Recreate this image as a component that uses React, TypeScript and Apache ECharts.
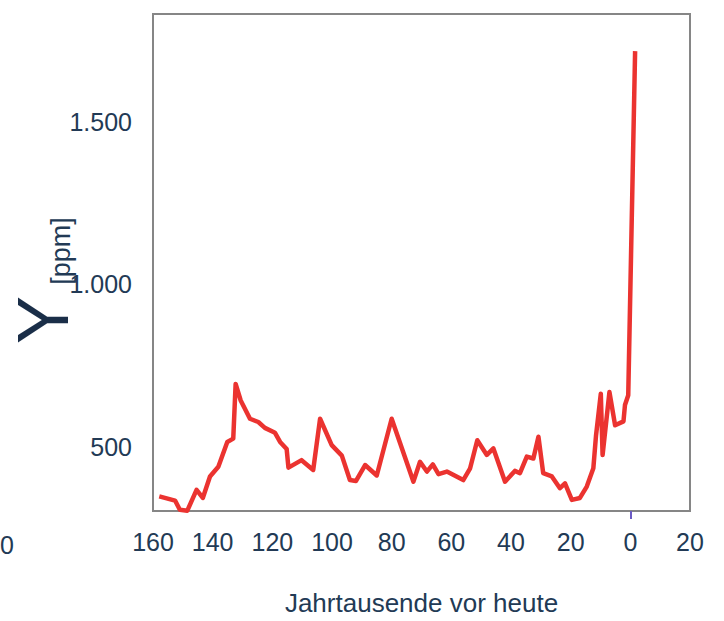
import React, { useEffect, useRef } from "react";
import * as echarts from "echarts";

// Age in thousands of years before present (negative = after today)
const ages = [
  157.9, 152.6, 151.0, 148.5, 145.4, 143.3, 140.9, 138.1, 135.1, 133.1,
  132.3, 130.6, 127.5, 124.7, 122.5, 119.1, 117.4, 115.2, 114.6, 110.2,
  106.3, 104.0, 100.1, 96.7, 94.0, 92.0, 88.9, 85.0, 80.0, 72.7,
  70.5, 68.2, 66.2, 64.3, 61.5, 56.0, 53.7, 51.3, 48.1, 45.9,
  42.0, 38.7, 37.0, 34.7, 32.5, 30.8, 29.2, 26.3, 23.6, 21.9,
  19.6, 16.9, 14.6, 12.4, 11.5, 9.9, 9.3, 7.0, 5.1, 2.3,
  1.8, 0.7, -1.6,
];

// Concentration in ppm
const ppm = [
  350, 337, 309, 306, 370, 345, 411, 441, 517, 527,
  695, 644, 588, 578, 560, 545, 517, 495, 438, 461,
  431, 588, 507, 475, 400, 397, 446, 414, 588, 395,
  456, 426, 448, 418, 426, 400, 436, 522, 477, 497,
  395, 428, 421, 472, 466, 533, 421, 411, 375, 390,
  339, 345, 380, 436, 537, 665, 477, 670, 568, 580,
  630, 660, 1716,
];

const yTicks = [500, 1000, 1500];
const xZeroTick = [0];

const FONT = "'Liberation Sans', Arial, Helvetica, sans-serif";
const TEXT = "#223a55";

const fmtDe = (v: number) =>
  String(Math.round(v)).replace(/\B(?=(\d{3})+(?!\d))/g, ".");

export default function App() {
  const ref = useRef<HTMLDivElement>(null);

  useEffect(() => {
    if (!ref.current) return;
    const chart = echarts.init(ref.current, null, { renderer: "svg" });
    const points = ages.map((a, i) => [a, ppm[i]]);

    chart.setOption({
      animation: false,
      backgroundColor: "#ffffff",
      grid: {
        left: 153,
        right: 34,
        top: 14,
        bottom: 107.5,
        show: true,
        borderColor: "#868686",
        borderWidth: 2,
        backgroundColor: "transparent",
      },
      xAxis: {
        type: "value",
        inverse: true,
        min: -20,
        max: 160,
        interval: 20,
        axisLine: { show: false },
        splitLine: { show: false },
        axisTick: {
          show: true,
          customValues: xZeroTick,
          length: 8,
          lineStyle: { color: "#6b5bc4", width: 2 },
        },
        axisLabel: {
          fontSize: 25,
          fontFamily: FONT,
          color: TEXT,
          margin: 18,
          showMinLabel: true,
          showMaxLabel: true,
          formatter: (v: number) => String(Math.abs(v)),
        },
        name: "Jahrtausende vor heute",
        nameLocation: "middle",
        nameGap: 79,
        nameTextStyle: { fontSize: 26, fontFamily: FONT, color: TEXT },
      },
      yAxis: {
        type: "value",
        min: 305,
        max: 1830,
        axisLine: { show: false },
        axisTick: { show: false },
        splitLine: { show: false },
        axisLabel: {
          customValues: yTicks,
          fontSize: 25,
          fontFamily: FONT,
          color: TEXT,
          margin: 21,
          formatter: (v: number) => fmtDe(v),
        },
      },
      graphic: [
        {
          type: "text",
          x: 43,
          y: 320,
          rotation: Math.PI / 2,
          style: {
            text: "Y",
            fontSize: 72,
            fontFamily: FONT,
            fill: "#1a2e48",
            align: "center",
            verticalAlign: "middle",
          },
        },
        {
          type: "text",
          x: 61,
          y: 251,
          rotation: Math.PI / 2,
          style: {
            text: "[ppm]",
            fontSize: 27,
            fontFamily: FONT,
            fill: TEXT,
            align: "center",
            verticalAlign: "middle",
          },
        },
        {
          type: "text",
          x: 0,
          y: 545,
          style: {
            text: "0",
            fontSize: 25,
            fontFamily: FONT,
            fill: TEXT,
            align: "left",
            verticalAlign: "middle",
          },
        },
      ],
      series: [
        {
          type: "line",
          data: points,
          symbol: "none",
          clip: true,
          lineStyle: { color: "#eb3330", width: 4.5, join: "round" },
        },
      ],
    });

    return () => chart.dispose();
  }, []);

  return (
    <div
      ref={ref}
      style={{ position: "fixed", left: 0, top: 0, width: 724, height: 621 }}
    />
  );
}
